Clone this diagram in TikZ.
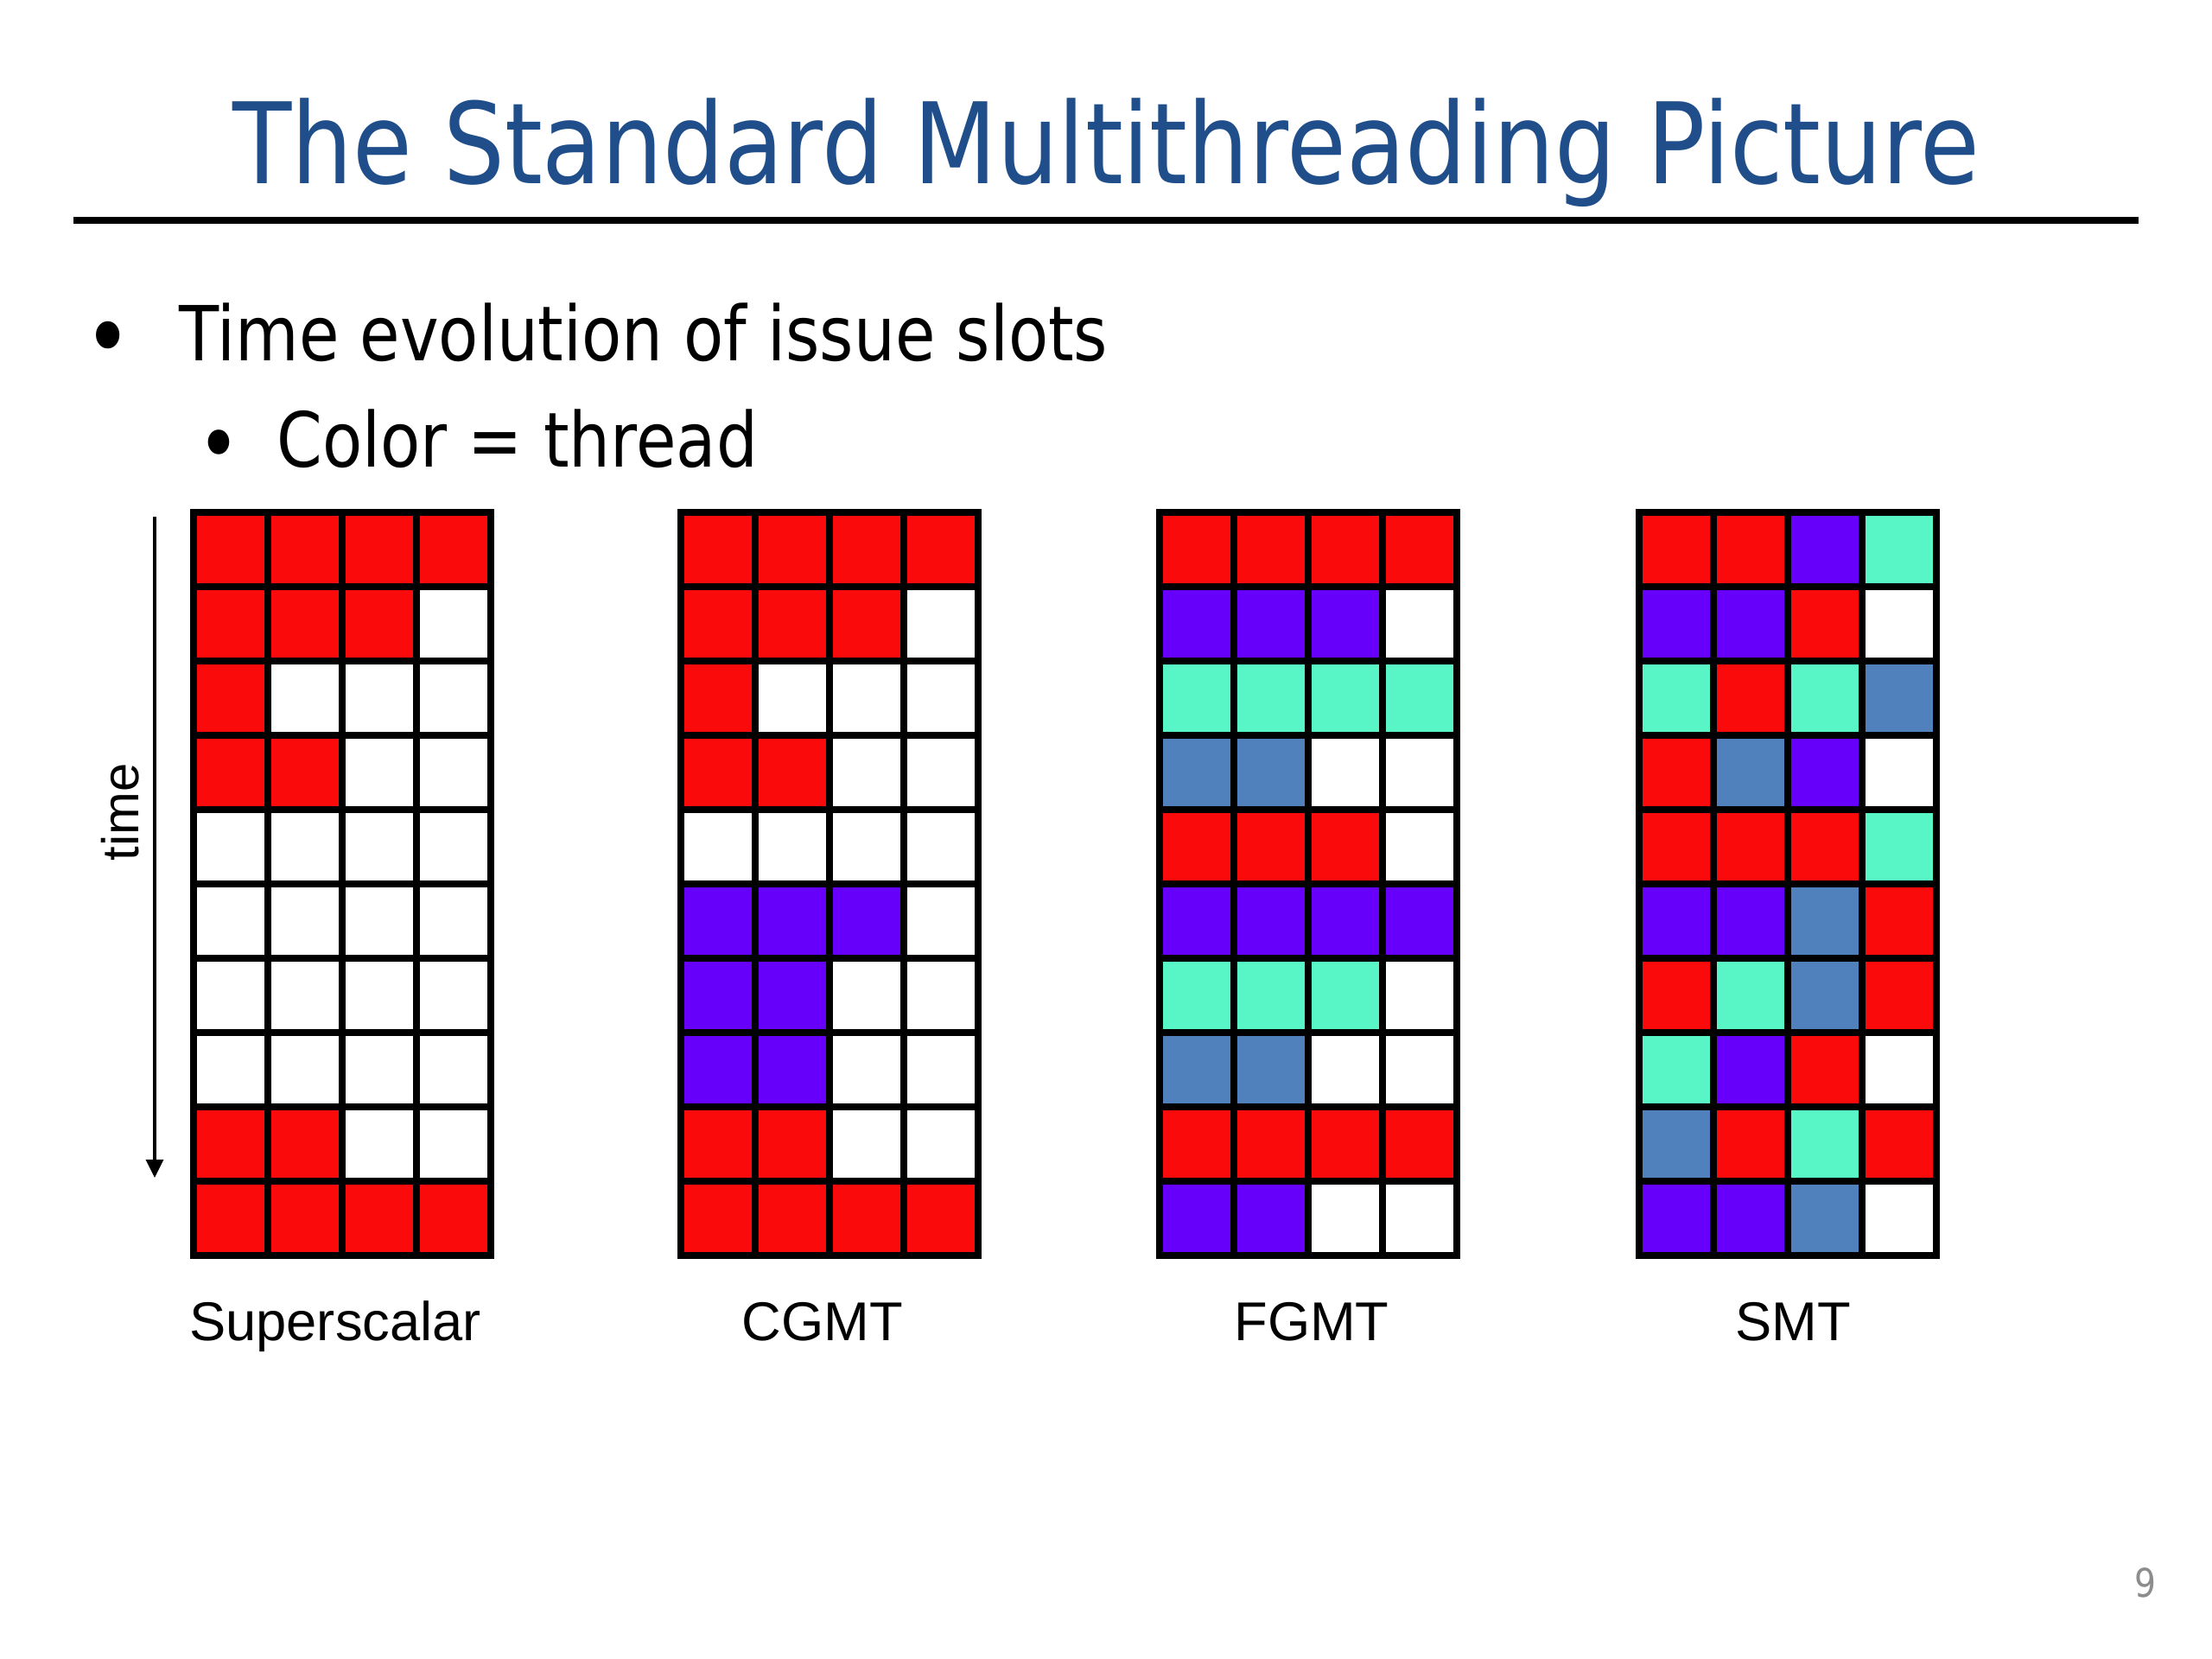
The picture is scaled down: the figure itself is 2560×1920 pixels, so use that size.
\documentclass[tikz,border=0pt]{standalone}
\usepackage{fontspec}
\setmainfont{Liberation Sans}
\newfontfamily\slidefont[FakeStretch=0.86]{DejaVu Sans}
\usetikzlibrary{arrows.meta}
\definecolor{titleblue}{HTML}{1F4E8A}
\definecolor{slotr}{HTML}{FA0A0A}
\definecolor{slotp}{HTML}{6600FA}
\definecolor{slotg}{HTML}{58F5C6}
\definecolor{slotb}{HTML}{5081BD}
\definecolor{slotw}{HTML}{FFFFFF}
\definecolor{pagegray}{HTML}{8C8C8C}

\begin{document}
\begin{tikzpicture}
  [ x=0.1mm, y=-0.1mm,
    slot/.style={
      rectangle,
      draw,
      line width=0.075cm,
      minimum size=0.86cm,
      inner sep=0pt},
    caption/.style={
      anchor=base,
      inner sep=0pt,
      font=\fontsize{18}{20}\selectfont},
    bullettext/.style={
      anchor=base west,
      inner sep=0pt,
      font=\slidefont\fontsize{25}{30}\selectfont},
    bulletdot/.style={
      anchor=center,
      inner sep=0pt,
      font=\slidefont\fontsize{#1}{#1}\selectfont},
    timeline/.style={
      draw,
      line width=0.033cm,
      -{Triangle[width=0.2cm,length=0.21cm]}},
  ]
  \useasboundingbox[fill=white] (0,0) rectangle (2560,1920);

  \node (title) [anchor=base, inner sep=0pt, text=titleblue,
    font=\slidefont\fontsize{37}{44}\selectfont] at (1280,212) {The Standard Multithreading Picture};
  \draw[line width=0.08cm] (85,255) -- (2475,255);

  \node (dot1) [bulletdot=31] at (125,400) {•};
  \node (item1) [bullettext] at (207,417) {Time evolution of issue slots};
  \node (dot2) [bulletdot=28] at (253,523) {•};
  \node (item2) [bullettext] at (320,540) {Color = thread};

  \foreach \gname/\gx/\lx/\gtext/\gcells in {
      ss/224/388/Superscalar/{r,r,r,r,r,r,r,w,r,w,w,w,r,r,w,w,w,w,w,w,w,w,w,w,w,w,w,w,w,w,w,w,r,r,w,w,r,r,r,r},
      cgmt/788/952/CGMT/{r,r,r,r,r,r,r,w,r,w,w,w,r,r,w,w,w,w,w,w,p,p,p,w,p,p,w,w,p,p,w,w,r,r,w,w,r,r,r,r},
      fgmt/1342/1518/FGMT/{r,r,r,r,p,p,p,w,g,g,g,g,b,b,w,w,r,r,r,w,p,p,p,p,g,g,g,w,b,b,w,w,r,r,r,r,p,p,w,w},
      smt/1897/2075/SMT/{r,r,p,g,p,p,r,w,g,r,g,b,r,b,p,w,r,r,r,g,p,p,b,r,r,g,b,r,g,p,r,w,b,r,g,r,p,p,b,w}}
  {
    \foreach \k [count=\n from 0] in \gcells {
      \pgfmathtruncatemacro\sr{\n/4}
      \pgfmathtruncatemacro\sc{mod(\n,4)}
      \node (\gname-\sr-\sc) [slot, fill=slot\k] at ({\gx+43+86*\sc},{636+86*\sr}) {};
    }
    \node (\gname-label) [caption] at (\lx,1551) {\gtext};
  }

  \coordinate (time-top) at (179,598);
  \coordinate (time-tip) at (179,1363);
  \draw[timeline] (time-top) -- (time-tip);
  \node (time) [rotate=90, font=\fontsize{17}{20}\selectfont] at (139,940) {time};

  \node (page) [text=pagegray, font=\slidefont\fontsize{13}{15}\selectfont] at (2483,1832) {9};
\end{tikzpicture}
\end{document}
